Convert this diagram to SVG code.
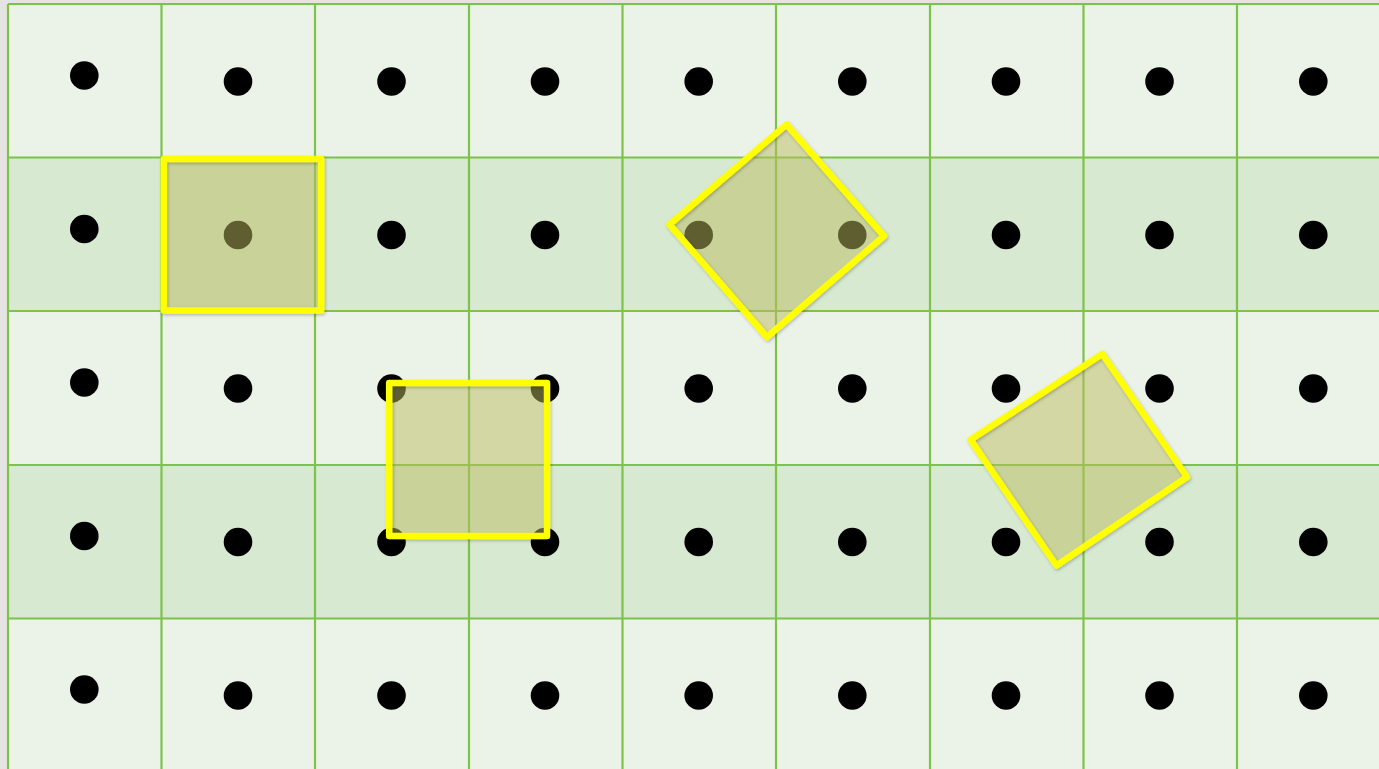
<svg xmlns="http://www.w3.org/2000/svg" width="1379" height="769" viewBox="0 0 1379 769">
  <defs>
    <style>
      .light{fill:#EBF3E8}
      .dark{fill:#D7E9D1}
      .gl{stroke:#7DC24B;stroke-width:2.2;fill:none}
      .dot{fill:#000000}
      .fill{fill:#BCBC60;fill-opacity:0.5;stroke:none}
      .edge{fill:none;stroke:#FFFF00;stroke-width:6.5;stroke-linejoin:round;filter:url(#sh)}
    </style>
    <filter id="sh" x="-10%" y="-10%" width="120%" height="120%">
      <feDropShadow dx="1" dy="1.5" stdDeviation="1.5" flood-color="#000" flood-opacity="0.25"/>
    </filter>
  </defs>
  <rect x="0" y="0" width="1379" height="769" fill="#E6E4E2"/>
  <g id="grid">
    <rect class="light" x="8" y="4" width="1380" height="153.5"/>
    <rect class="dark" x="8" y="157.5" width="1380" height="153.5"/>
    <rect class="light" x="8" y="311" width="1380" height="154"/>
    <rect class="dark" x="8" y="465" width="1380" height="153.5"/>
    <rect class="light" x="8" y="618.5" width="1380" height="160"/>
    <path class="gl" d="M8,4V780M161.5,4V780M315,4V780M469,4V780M622.5,4V780M776,4V780M930,4V780M1083.5,4V780M1237,4V780M8,4H1390M8,157.5H1390M8,311H1390M8,465H1390M8,618.5H1390"/>
  </g>
  <g id="dots">
    <circle class="dot" cx="84.3" cy="75.5" r="14.3"/>
    <circle class="dot" cx="84.3" cy="229" r="14.3"/>
    <circle class="dot" cx="84.3" cy="382.5" r="14.3"/>
    <circle class="dot" cx="84.3" cy="536" r="14.3"/>
    <circle class="dot" cx="84.3" cy="689.5" r="14.3"/>
    <g id="dots-row1">
      <circle class="dot" cx="238" cy="81.5" r="14.3"/><circle class="dot" cx="391.5" cy="81.5" r="14.3"/><circle class="dot" cx="545" cy="81.5" r="14.3"/><circle class="dot" cx="698.7" cy="81.5" r="14.3"/><circle class="dot" cx="852.3" cy="81.5" r="14.3"/><circle class="dot" cx="1006" cy="81.5" r="14.3"/><circle class="dot" cx="1159.5" cy="81.5" r="14.3"/><circle class="dot" cx="1313.3" cy="81.5" r="14.3"/>
    </g>
    <g id="dots-row2">
      <circle class="dot" cx="238" cy="235" r="14.3"/><circle class="dot" cx="391.5" cy="235" r="14.3"/><circle class="dot" cx="545" cy="235" r="14.3"/><circle class="dot" cx="698.7" cy="235" r="14.3"/><circle class="dot" cx="852.3" cy="235" r="14.3"/><circle class="dot" cx="1006" cy="235" r="14.3"/><circle class="dot" cx="1159.5" cy="235" r="14.3"/><circle class="dot" cx="1313.3" cy="235" r="14.3"/>
    </g>
    <g id="dots-row3">
      <circle class="dot" cx="238" cy="388.5" r="14.3"/><circle class="dot" cx="391.5" cy="388.5" r="14.3"/><circle class="dot" cx="545" cy="388.5" r="14.3"/><circle class="dot" cx="698.7" cy="388.5" r="14.3"/><circle class="dot" cx="852.3" cy="388.5" r="14.3"/><circle class="dot" cx="1006" cy="388.5" r="14.3"/><circle class="dot" cx="1159.5" cy="388.5" r="14.3"/><circle class="dot" cx="1313.3" cy="388.5" r="14.3"/>
    </g>
    <g id="dots-row4">
      <circle class="dot" cx="238" cy="542" r="14.3"/><circle class="dot" cx="391.5" cy="542" r="14.3"/><circle class="dot" cx="545" cy="542" r="14.3"/><circle class="dot" cx="698.7" cy="542" r="14.3"/><circle class="dot" cx="852.3" cy="542" r="14.3"/><circle class="dot" cx="1006" cy="542" r="14.3"/><circle class="dot" cx="1159.5" cy="542" r="14.3"/><circle class="dot" cx="1313.3" cy="542" r="14.3"/>
    </g>
    <g id="dots-row5">
      <circle class="dot" cx="238" cy="695.5" r="14.3"/><circle class="dot" cx="391.5" cy="695.5" r="14.3"/><circle class="dot" cx="545" cy="695.5" r="14.3"/><circle class="dot" cx="698.7" cy="695.5" r="14.3"/><circle class="dot" cx="852.3" cy="695.5" r="14.3"/><circle class="dot" cx="1006" cy="695.5" r="14.3"/><circle class="dot" cx="1159.5" cy="695.5" r="14.3"/><circle class="dot" cx="1313.3" cy="695.5" r="14.3"/>
    </g>
  </g>
  <g id="square1">
    <rect class="fill" x="163.8" y="159" width="157.4" height="151.5"/>
    <rect class="edge" x="163.8" y="159" width="157.4" height="151.5"/>
  </g>
  <g id="square2">
    <rect class="fill" x="389.2" y="383" width="157.8" height="153"/>
    <rect class="edge" x="389.2" y="383" width="157.8" height="153"/>
  </g>
  <g id="square3">
    <polygon class="fill" points="786.5,124.5 884,236 767,337 669.5,224.5"/>
    <polygon class="edge" points="786.5,124.5 884,236 767,337 669.5,224.5"/>
  </g>
  <g id="square4">
    <polygon class="fill" points="1102.3,354 1187,477 1056.5,565.5 970.5,439.7"/>
    <polygon class="edge" points="1102.3,354 1187,477 1056.5,565.5 970.5,439.7"/>
  </g>
  <g id="connectors"/>
</svg>
